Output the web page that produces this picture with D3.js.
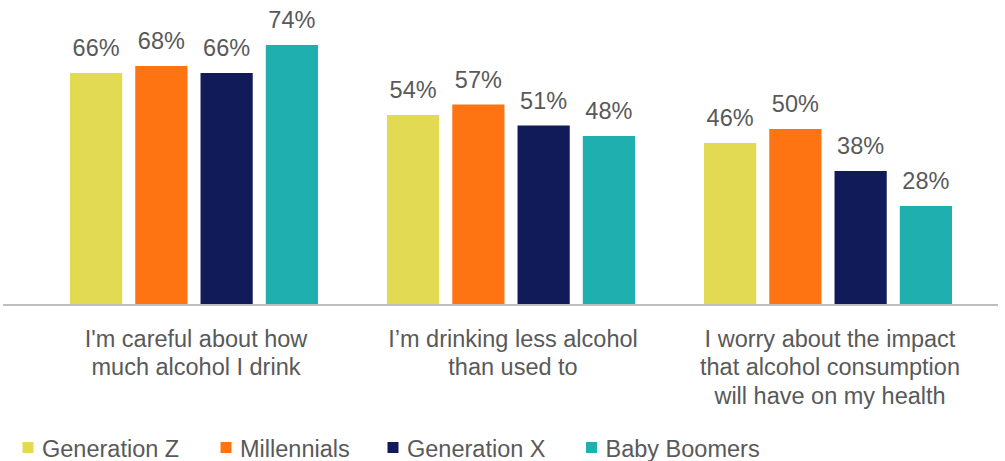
<!DOCTYPE html>
<html>
<head>
<meta charset="utf-8">
<script src="https://cdn.jsdelivr.net/npm/d3@7"></script>
<style>
  body { margin: 0; background: #fff; }
  text { font-family: "Liberation Sans", Arial, sans-serif; fill: #595959; }
</style>
</head>
<body>
<div id="chart"></div>
<script>
// chart data
var categories = [
    ["I'm careful about how", "much alcohol I drink"],
    ["I\u2019m drinking less alcohol", "than used to"],
    ["I worry about the impact", "that alcohol consumption", "will have on my health"]
];
var series = ["Generation Z", "Millennials", "Generation X", "Baby Boomers"];
var genZ = [66, 54, 46];
var millennials = [68, 57, 50];
var genX = [66, 51, 38];
var boomers = [74, 48, 28];
var colors = ["#E2DA52", "#FF7412", "#121B5A", "#1EAFAE"];

var values = [genZ, millennials, genX, boomers];

// svg dimensions
var svgWidth = 1005;
var svgHeight = 461;

var svg = d3.select("#chart")
    .append("svg")
    .attr("width", svgWidth)
    .attr("height", svgHeight);

// scales
var x0 = d3.scaleBand()
    .domain(d3.range(categories.length))
    .range([35.5, 986.5]);

var x1 = d3.scaleBand()
    .domain(series)
    .range([-124, 124])
    .paddingInner(0.2);

var y = d3.scaleLinear()
    .domain([0, 80])
    .range([304, 24]);

// bars
var groups = svg.selectAll(".group")
    .data(categories)
    .enter()
    .append("g")
    .attr("class", "group")
    .attr("transform", (d, i) => `translate(${x0(i) + x0.bandwidth() / 2}, 0)`);

groups.each(function(cat, ci) {
    var g = d3.select(this);
    var rows = series.map((s, si) => ({ name: s, value: values[si][ci], color: colors[si] }));

    g.selectAll("rect")
        .data(rows)
        .enter()
        .append("rect")
        .attr("x", d => x1(d.name))
        .attr("y", d => y(d.value))
        .attr("width", x1.bandwidth())
        .attr("height", d => y(0) - y(d.value))
        .attr("fill", d => d.color);

    g.selectAll(".val")
        .data(rows)
        .enter()
        .append("text")
        .attr("class", "val")
        .attr("x", d => x1(d.name) + x1.bandwidth() / 2)
        .attr("y", d => y(d.value) - 17)
        .attr("text-anchor", "middle")
        .style("font-size", "23.5px")
        .text(d => d.value + "%");

    // category label
    var label = g.append("text")
        .attr("text-anchor", "middle")
        .style("font-size", "23.5px");
    label.selectAll("tspan")
        .data(cat)
        .enter()
        .append("tspan")
        .attr("x", 2)
        .attr("y", (d, i) => 346.5 + i * 28.7)
        .text(d => d);
});

// baseline
svg.append("line")
    .attr("x1", 3)
    .attr("x2", 998)
    .attr("y1", y(0) + 1)
    .attr("y2", y(0) + 1)
    .attr("stroke", "#BFBFBF")
    .attr("stroke-width", 2);

// legend
var legendX = [22.5, 220.5, 387.5, 586];
var legend = svg.selectAll(".legend")
    .data(series)
    .enter()
    .append("g")
    .attr("class", "legend")
    .attr("transform", (d, i) => `translate(${legendX[i]}, 442)`);

legend.append("rect")
    .attr("width", 11)
    .attr("height", 11)
    .attr("fill", (d, i) => colors[i]);

legend.append("text")
    .attr("x", 19.5)
    .attr("y", 15)
    .style("font-size", "23.5px")
    .text(d => d);
</script>
</body>
</html>
